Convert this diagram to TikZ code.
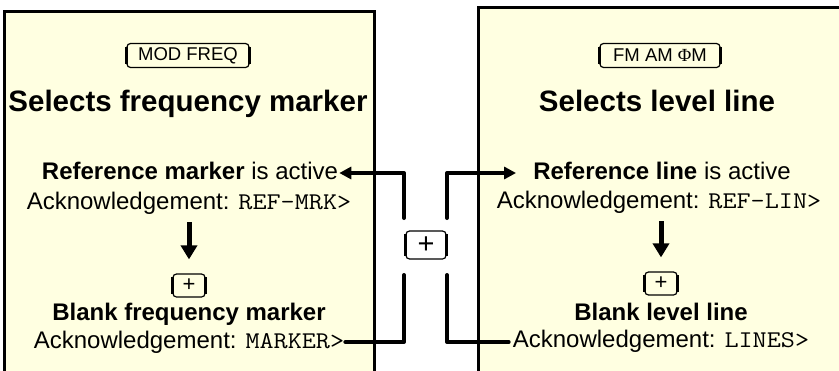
\documentclass[tikz,border=0pt]{standalone}
\usepackage{fontspec}
\usepackage{graphicx}
\setmainfont{Liberation Sans}
\newfontfamily\greekserif{Liberation Serif}
\usetikzlibrary{arrows.meta}
\definecolor{panel}{RGB}{255,255,225}
\tikzset{
  panelbox/.style={fill=panel, draw=black, line width=3pt},
  keycap/.style={draw, line width=1.2pt, rounded corners=3.5pt, inner sep=0pt},
  keyedge/.style={line width=2.8pt, line cap=butt},
  title/.style={font=\fontsize{29.5}{30}\selectfont\bfseries, inner sep=1pt, anchor=base},
  body/.style={font=\fontsize{24}{26}\selectfont, inner sep=1pt, anchor=base},
  conn/.style={line width=4pt, line join=round, line cap=round},
  stepdown/.style={line width=5pt, -{Triangle[length=14pt,width=16pt]}},
  tip/.style={-{Triangle[length=12pt,width=12pt]}},
}
\newcommand\ackcode[1]{\scalebox{1.14}[1]{\ttfamily #1}}
\begin{document}
\begin{tikzpicture}[x=1pt, y=-1pt]
\useasboundingbox (0,0) rectangle (839,370);
\clip (0,0) rectangle (839,370);

% the two panels run off the bottom (and the right one off the right side)
\draw[panelbox] (4,11) rectangle (374,420);
\draw[panelbox] (478,7) rectangle (900,420);

% key caps
\node[keycap, minimum width=122pt, minimum height=24pt, font=\fontsize{18.5}{18.5}\selectfont] (k1) at (188,55.5) {MOD FREQ};
\node[keycap, minimum width=120pt, minimum height=24pt, font=\fontsize{18.5}{18.5}\selectfont] (k2) at (660,55.5) {FM AM {\greekserif Φ}M};
\node[keycap, minimum width=32pt, minimum height=23pt, font=\fontsize{22}{22}\selectfont] (sk1) at (189,285.5) {+};
\node[keycap, minimum width=32pt, minimum height=23pt, font=\fontsize{22}{22}\selectfont] (sk2) at (661,283.5) {+};
\node[keycap, minimum width=40pt, minimum height=28pt, font=\fontsize{29}{29}\selectfont] (ck) at (426,245) {+};
\foreach \k in {k1,k2,sk1,sk2,ck}
  \draw[keyedge] ([yshift=-4pt]\k.north west) -- ([yshift=4pt]\k.south west)
                 ([yshift=-4pt]\k.north east) -- ([yshift=4pt]\k.south east);

% left panel
\node[title] (t1) at (188,111) {Selects frequency marker};
\node[body] (rm) at (190,179) {\textbf{Reference marker} is active};
\node[body] (a1) at (189,209) {Acknowledgement: \ackcode{REF-MRK>}};
\node[body] (bm) at (189,320) {\textbf{Blank frequency marker}};
\node[body] (a2) at (189,348) {Acknowledgement: \ackcode{MARKER>}};

% right panel
\node[title] (t2) at (657,111) {Selects level line};
\node[body] (rl) at (662,179) {\textbf{Reference line} is active};
\node[body] (a3) at (659,208) {Acknowledgement: \ackcode{REF-LIN>}};
\node[body] (bl) at (661,320) {\textbf{Blank level line}};
\node[body] (a4) at (661,347) {Acknowledgement: \ackcode{LINES>}};

% step arrows inside the panels
\draw[stepdown, shorten <=7pt, shorten >=14pt] (a1.south -| sk1) -- (sk1.north);
\draw[stepdown, shorten <=7pt, shorten >=14pt] (a3.south -| sk2) -- (sk2.north);

% toggle connectors around the centre key
\coordinate (lu) at (404,218);
\coordinate (ru) at (447,218);
\coordinate (ll) at (404,275);
\coordinate (lr) at (447,275);
\draw[conn, tip] (lu) |- ([yshift=6pt]rm.base east);
\draw[conn, tip] (ru) |- ([xshift=-16pt,yshift=6pt]rl.base west);
\draw[conn] (ll) |- ([yshift=6pt]a2.base east);
\draw[conn] (lr) |- ([xshift=-3pt,yshift=5pt]a4.base west);
\end{tikzpicture}
\end{document}
